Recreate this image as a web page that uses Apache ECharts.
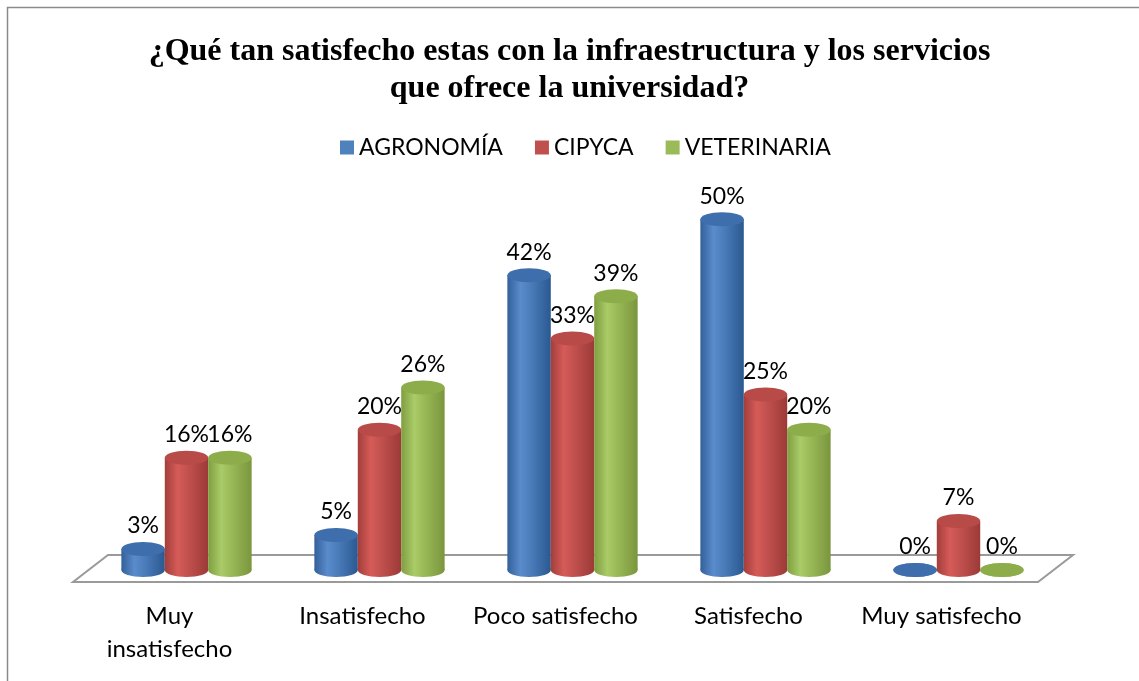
<!DOCTYPE html>
<html><head><meta charset="utf-8">
<script src="https://cdn.jsdelivr.net/npm/echarts@6/dist/echarts.min.js"></script>
<style>html,body{margin:0;padding:0;background:#fff}#c{width:1139px;height:681px}</style>
</head><body><div id="c"></div>
<script>
const categories = ['Muy\ninsatisfecho', 'Insatisfecho', 'Poco satisfecho', 'Satisfecho', 'Muy satisfecho'];
const seriesNames = ['AGRONOMÍA', 'CIPYCA', 'VETERINARIA'];
const agronomia = [3, 5, 42, 50, 0];
const cipyca = [16, 20, 33, 25, 7];
const veterinaria = [16, 26, 39, 20, 0];
const valueLists = [agronomia, cipyca, veterinaria];

const baseColors = ['#4F81BD', '#C0504D', '#9BBB59'];
const bodyStops = [
  ['#33609a', '#5a8bcb', '#4a7cba', '#2b5890'],
  ['#a23e3b', '#d65b58', '#c0504d', '#9c3a38'],
  ['#7f9e41', '#aacb68', '#98b856', '#7a963e']
];
const topColors = ['#3e6eab', '#b84a47', '#8dad4b'];

const chart = echarts.init(document.getElementById('c'));
const FONT = 'Lato, "Liberation Sans", sans-serif';
const DX = 17, DY = -12;

function cylRender(params, api) {
  const si = params.seriesIndex - 1;
  const ci = api.value(0), v = api.value(1);
  const band = api.size([1, 0])[0];
  const w = band * 0.225;
  const c0 = api.coord([ci, 0]);
  const c1 = api.coord([ci, v]);
  const cx = c0[0] + DX + (si - 1) * w;
  const yb = c0[1] + DY, yt = c1[1] + DY;
  const rx = w / 2, ry = 7;
  const grad = {type: 'linear', x: 0, y: 0, x2: 1, y2: 0, colorStops: [
    {offset: 0, color: bodyStops[si][0]},
    {offset: 0.3, color: bodyStops[si][1]},
    {offset: 0.55, color: bodyStops[si][2]},
    {offset: 1, color: bodyStops[si][3]}
  ]};
  const children = [
    {type: 'ellipse', shape: {cx: cx, cy: yb, rx: rx, ry: ry}, style: {fill: grad}},
    {type: 'rect', shape: {x: cx - rx, y: yt, width: w, height: Math.max(0, yb - yt)}, style: {fill: grad}},
    {type: 'ellipse', shape: {cx: cx, cy: yt, rx: rx, ry: ry}, style: {fill: topColors[si]}},
    {type: 'text', style: {text: v + '%', x: cx, y: yt - 23, textAlign: 'center', textVerticalAlign: 'middle',
      fill: '#000', fontSize: 23, fontFamily: FONT}}
  ];
  return {type: 'group', children: children};
}

function floorRender(params, api) {
  const band = api.size([1, 0])[0];
  const a = api.coord([0, 0]);
  const b = api.coord([categories.length - 1, 0]);
  const L = a[0] - band / 2, R = b[0] + band / 2, y = a[1];
  return {type: 'polygon', shape: {points: [[L, y], [R, y], [R + 35, y - 27], [L + 35, y - 27]]},
    style: {fill: '#fff', stroke: '#9a9a9a', lineWidth: 2}};
}

const series = [{type: 'custom', name: 'floor', renderItem: floorRender, data: [[0, 0]], z: 1, silent: true}];
seriesNames.forEach((n, i) => {
  series.push({
    type: 'custom', name: n, renderItem: cylRender, z: 2,
    itemStyle: {color: baseColors[i]},
    encode: {x: 0, y: 1},
    data: valueLists[i].map((v, k) => [k, v])
  });
});

chart.setOption({
  animation: false,
  title: {
    text: '¿Qué tan satisfecho estas con la infraestructura y los servicios\nque ofrece la universidad?',
    left: 'center', top: 28,
    textStyle: {fontFamily: '"Liberation Serif", "Times New Roman", serif', fontWeight: 'bold', fontSize: 32, lineHeight: 37, color: '#000'}
  },
  legend: {
    data: seriesNames, top: 131, left: 335, icon: 'rect', itemWidth: 14, itemHeight: 14, itemGap: 32,
    textStyle: {fontFamily: FONT, fontSize: 23, color: '#000'}
  },
  graphic: [{type: 'rect', shape: {x: 7.5, y: 7.5, width: 1140, height: 690}, style: {fill: 'none', stroke: '#8a8a8a', lineWidth: 1.5}, z: -1}],
  grid: {left: 73, right: 101, top: 168, bottom: 99},
  xAxis: {type: 'category', data: categories, axisLine: {show: false}, axisTick: {show: false},
    axisLabel: {fontFamily: FONT, fontSize: 24, color: '#000', lineHeight: 33, margin: 18, interval: 0}},
  yAxis: {type: 'value', min: 0, max: 59, show: false, splitLine: {show: false}},
  series: series
});
</script></body></html>
